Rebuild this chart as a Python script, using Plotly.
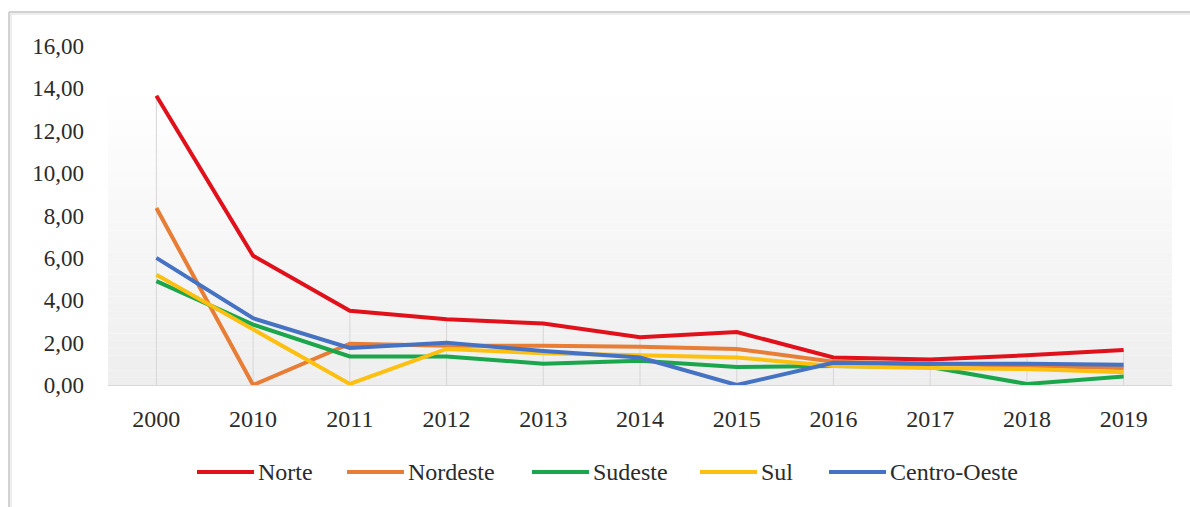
import plotly.graph_objects as go

# Categories (years) and series values
anos = ["2000", "2010", "2011", "2012", "2013", "2014", "2015", "2016", "2017", "2018", "2019"]
norte = [13.65, 6.10, 3.50, 3.10, 2.90, 2.25, 2.50, 1.30, 1.20, 1.40, 1.65]
nordeste = [8.35, 0.00, 1.95, 1.85, 1.85, 1.80, 1.70, 1.10, 1.00, 0.90, 0.80]
sudeste = [4.90, 2.85, 1.35, 1.35, 1.00, 1.15, 0.85, 0.90, 0.85, 0.05, 0.40]
sul = [5.20, 2.60, 0.05, 1.70, 1.50, 1.40, 1.30, 0.90, 0.80, 0.75, 0.60]
centro_oeste = [6.00, 3.15, 1.75, 2.00, 1.60, 1.30, 0.00, 1.05, 1.00, 1.00, 0.95]

series = [
    ("Norte", norte, "#e0111b"),
    ("Nordeste", nordeste, "#e87d35"),
    ("Sudeste", sudeste, "#1ca64c"),
    ("Sul", sul, "#fdc010"),
    ("Centro-Oeste", centro_oeste, "#4672c4"),
]

FONT = "Liberation Serif, Times New Roman, serif"
TXT = "#2b2b2b"

fig = go.Figure()

# Drop lines from the highest value of each year down to the axis
drop_x, drop_y = [], []
for i, a in enumerate(anos):
    top = max(s[1][i] for s in series)
    drop_x += [a, a, None]
    drop_y += [0, top, None]
fig.add_trace(go.Scatter(x=drop_x, y=drop_y, mode="lines",
                         line=dict(color="#d6d6d6", width=1),
                         showlegend=False, hoverinfo="skip"))

for nome, vals, cor in series:
    fig.add_trace(go.Scatter(x=anos, y=vals, mode="lines", name=nome,
                             line=dict(color=cor, width=4),
                             showlegend=False))

# Plot-area geometry in pixels
W, H = 1190, 507
L, R, T, B = 108, 1172, 46, 385


def px_x(p):
    return (p - L) / (R - L)


def px_y(p):
    return (B - p) / (B - T)


shapes = []
annotations = []
# Vertical gradient background of the plot area (white at top, light grey at the bottom)
n = 40
top_g = 90
for k in range(n):
    y0 = top_g + (B - top_g) * k / n
    y1 = top_g + (B - top_g) * (k + 1) / n
    v = int(round(255 - (255 - 238) * (k + 0.5) / n))
    shapes.append(dict(type="rect", xref="paper", yref="paper",
                       x0=0, x1=1, y0=px_y(y1), y1=px_y(y0),
                       fillcolor=f"rgb({v},{v},{v})", line=dict(width=0),
                       layer="below"))
# Outer chart frame (top and left edges)
shapes.append(dict(type="line", xref="paper", yref="paper",
                   x0=px_x(9), x1=px_x(W + 5), y0=px_y(12), y1=px_y(12),
                   line=dict(color="#d2d2d2", width=2)))
shapes.append(dict(type="line", xref="paper", yref="paper",
                   x0=px_x(9), x1=px_x(9), y0=px_y(12), y1=px_y(H + 5),
                   line=dict(color="#d2d2d2", width=2)))
shapes.append(dict(type="line", xref="paper", yref="paper",
                   x0=px_x(10), x1=px_x(W + 5), y0=px_y(14), y1=px_y(14),
                   line=dict(color="#eeeeee", width=2)))
shapes.append(dict(type="line", xref="paper", yref="paper",
                   x0=px_x(11), x1=px_x(11), y0=px_y(14), y1=px_y(H + 5),
                   line=dict(color="#eeeeee", width=2)))

# Legend row: a line sample followed by the series name
legend_x = [197, 347, 532, 700, 829]
legend_y = 472
for (nome, _, cor), lx in zip(series, legend_x):
    shapes.append(dict(type="line", xref="paper", yref="paper",
                       x0=px_x(lx), x1=px_x(lx + 57),
                       y0=px_y(legend_y), y1=px_y(legend_y),
                       line=dict(color=cor, width=4)))
    annotations.append(dict(xref="paper", yref="paper",
                            x=px_x(lx + 59), y=px_y(legend_y),
                            xanchor="left", yanchor="middle",
                            text=nome, showarrow=False,
                            font=dict(family=FONT, size=24, color=TXT)))

fig.update_layout(
    width=W, height=H,
    margin=dict(l=L, r=W - R, t=T, b=H - B),
    paper_bgcolor="white",
    plot_bgcolor="rgba(0,0,0,0)",
    separators=",.",
    font=dict(family=FONT, size=23, color=TXT),
    shapes=shapes,
    annotations=annotations,
    showlegend=False,
)

fig.update_xaxes(type="category", range=[-0.5, len(anos) - 0.5],
                 showgrid=False, zeroline=False,
                 showline=True, linecolor="#d9d9d9", linewidth=1,
                 ticks="", tickfont=dict(family=FONT, size=24, color=TXT),
                 ticklabelstandoff=12, fixedrange=True)
fig.update_yaxes(range=[0, 16], dtick=2, tickformat=".2f", showgrid=False,
                 zeroline=False, showline=False, ticks="",
                 tickfont=dict(family=FONT, size=23, color=TXT),
                 ticklabelstandoff=23, fixedrange=True)

fig.write_html("out.html")
